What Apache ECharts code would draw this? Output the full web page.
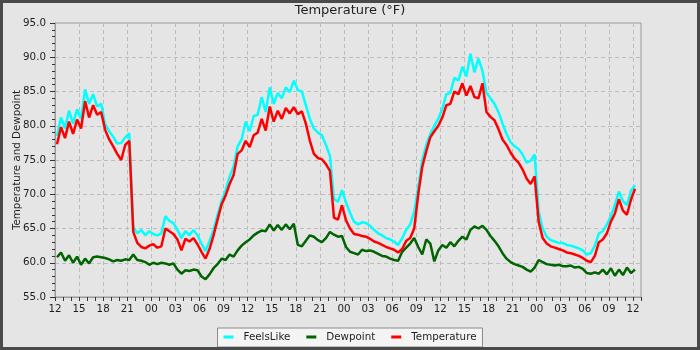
<!DOCTYPE html>
<html>
<head>
<meta charset="utf-8">
<script src="https://cdn.jsdelivr.net/npm/echarts@6/dist/echarts.min.js"></script>
<style>
  html, body { margin: 0; padding: 0; background: #e5e5e5; }
  #wrap { position: relative; width: 700px; height: 350px; background: #e5e5e5; }
  #chart { width: 700px; height: 350px; }
  #frame { position: absolute; left: 0; top: 0; width: 700px; height: 350px;
           box-sizing: border-box; border: 3px solid #4a4a4a; pointer-events: none; }
</style>
</head>
<body>
<div id="wrap"><div id="chart"></div><div id="frame"></div></div>
<script>
// Hours are counted from 12:00 on the first day; samples every half hour.
const FIRST_HOUR = 0.25;
const STEP_HOURS = 0.5;

// Hour-of-day labels for every 3-hour tick (0 .. 72 h)
const xTickLabels = ['12','15','18','21','00','03','06','09',
                     '12','15','18','21','00','03','06','09',
                     '12','15','18','21','00','03','06','09','12'];

const feelsLike = [
  78.5, 81.2, 79.6, 82.2, 80.3, 82.4, 81.0, 85.3, 83.2, 84.6,
  82.8, 83.2, 80.2, 79.2, 78.4, 77.4, 77.5, 78.3, 78.9, 65.2,
  64.3, 64.8, 64.0, 64.6, 64.2, 64.0, 64.3, 66.8, 66.1, 65.8,
  64.8, 63.6, 64.6, 64.0, 64.8, 64.0, 62.8, 61.7, 63.2, 64.8,
  67.0, 69.0, 70.6, 72.6, 74.0, 77.0, 78.0, 80.6, 79.2, 81.4,
  81.6, 84.2, 82.0, 85.6, 83.2, 84.8, 84.0, 85.6, 84.9, 86.6,
  85.2, 85.0, 83.0, 81.0, 79.6, 79.0, 78.6, 77.2, 75.6, 69.3,
  68.9, 70.6, 68.8, 67.3, 66.0, 65.6, 65.9, 65.8, 65.4, 64.8,
  64.3, 64.0, 63.6, 63.4, 63.1, 62.6, 63.6, 64.8, 65.6, 67.5,
  71.0, 75.0, 77.2, 78.8, 80.0, 81.0, 82.5, 84.6, 84.8, 87.0,
  86.6, 88.6, 87.2, 90.5, 87.8, 89.8, 88.0, 84.8, 84.0, 83.2,
  82.0, 80.3, 78.8, 77.6, 77.0, 76.6, 75.8, 74.6, 74.9, 75.8,
  67.5, 65.0, 63.8, 63.3, 63.1, 62.9, 62.9, 62.6, 62.5, 62.3,
  62.1, 61.8, 61.2, 61.4, 62.5, 64.3, 64.6, 65.6, 66.8, 68.5,
  70.4, 69.0, 68.4, 70.5, 71.3
];

const dewpoint = [
  60.8, 61.5, 60.3, 61.1, 60.0, 60.9, 59.7, 60.6, 59.9, 60.8,
  60.9, 60.8, 60.7, 60.5, 60.2, 60.4, 60.3, 60.5, 60.4, 61.2,
  60.4, 60.3, 60.1, 59.7, 60.0, 59.8, 60.0, 59.9, 59.7, 59.9,
  59.0, 58.4, 58.9, 58.8, 59.0, 58.9, 58.0, 57.6, 58.3, 59.2,
  59.8, 60.6, 60.4, 61.2, 60.9, 61.8, 62.5, 63.0, 63.4, 64.0,
  64.4, 64.7, 64.6, 65.6, 64.7, 65.5, 64.8, 65.6, 64.9, 65.7,
  62.6, 62.4, 63.2, 64.0, 63.8, 63.3, 63.0, 63.6, 64.5, 64.1,
  63.8, 63.9, 62.3, 61.6, 61.4, 61.2, 61.9, 61.7, 61.8, 61.6,
  61.3, 61.0, 60.9, 60.6, 60.4, 60.3, 61.6, 62.2, 62.8, 63.6,
  62.3, 61.2, 63.4, 62.8, 60.2, 61.8, 62.6, 62.2, 63.0, 62.4,
  63.2, 63.8, 63.4, 64.8, 65.3, 65.0, 65.4, 64.8, 63.9, 63.2,
  62.4, 61.4, 60.6, 60.1, 59.8, 59.6, 59.4, 59.0, 58.7, 59.3,
  60.4, 60.1, 59.8, 59.7, 59.6, 59.7, 59.5, 59.5, 59.6, 59.3,
  59.4, 59.1, 58.5, 58.4, 58.6, 58.4, 59.0, 58.3, 59.2, 58.1,
  59.0, 58.2, 59.3, 58.5, 59.0
];

const temperature = [
  77.3, 79.8, 78.2, 80.6, 78.8, 80.9, 79.6, 83.6, 81.2, 83.0,
  81.6, 82.0, 79.4, 78.0, 77.0, 75.9, 75.0, 77.2, 77.8, 64.5,
  62.9, 62.3, 62.1, 62.5, 62.7, 62.2, 62.4, 65.0, 64.6, 64.2,
  63.4, 61.8, 63.5, 63.1, 63.6, 62.7, 61.6, 60.6, 62.0, 64.0,
  66.3, 68.5, 69.8, 71.5, 72.8, 75.9, 76.4, 77.8, 76.9, 78.6,
  79.0, 81.0, 79.3, 82.8, 80.6, 82.2, 81.0, 82.6, 81.8, 82.7,
  81.7, 82.1, 80.3, 77.8, 75.9, 75.3, 75.1, 74.4, 73.4, 66.6,
  66.3, 68.4, 66.2, 65.0, 64.2, 64.1, 63.9, 63.8, 63.5, 63.1,
  62.9, 62.6, 62.3, 62.1, 61.9, 61.5, 62.0, 63.2, 63.6, 65.0,
  70.0, 74.0, 76.3, 78.3, 79.2, 80.0, 81.2, 83.0, 83.2, 85.0,
  84.6, 86.2, 84.4, 85.8, 84.2, 84.0, 86.2, 82.0, 81.3, 80.8,
  79.5, 78.0, 77.2, 76.1, 75.2, 74.6, 73.6, 72.3, 71.5, 72.6,
  66.0, 63.6, 62.8, 62.4, 62.2, 62.0, 61.8, 61.5, 61.4, 61.2,
  61.0, 60.7, 60.3, 60.1, 61.0, 63.0, 63.4, 64.3, 66.0, 67.2,
  69.3, 67.6, 67.0, 69.2, 70.8
];

function toPoints(values) {
  return values.map((v, i) => [FIRST_HOUR + i * STEP_HOURS, v]);
}

const FONT = 'DejaVu Sans';
const TEXT = '#1e1e1e';
const FRAME = '#9a9a9a';
const GRIDLINE = { color: '#bdbdbd', width: 1, type: [4, 3] };

const chart = echarts.init(document.getElementById('chart'), null, { renderer: 'canvas' });

chart.setOption({
  backgroundColor: 'transparent',
  animation: false,
  textStyle: { fontFamily: FONT },
  title: {
    text: 'Temperature (°F)',
    left: 'center',
    top: 4,
    padding: 0,
    textStyle: { fontFamily: FONT, fontSize: 13, fontWeight: 'normal', color: TEXT }
  },
  legend: {
    left: 'center',
    bottom: 3,
    orient: 'horizontal',
    icon: 'rect',
    itemWidth: 10,
    itemHeight: 3,
    itemGap: 16,
    padding: [4, 6, 5, 6],
    backgroundColor: '#f4f4f4',
    borderColor: '#8a8a8a',
    borderWidth: 1,
    borderRadius: 0,
    textStyle: { fontFamily: FONT, fontSize: 10.3, color: TEXT, padding: [0, 0, 0, 5] },
    data: ['FeelsLike', 'Dewpoint', 'Temperature']
  },
  grid: {
    left: 55, right: 59, top: 23, bottom: 53,
    outerBoundsMode: 'none',
    containLabel: false,
    show: true,
    backgroundColor: 'transparent',
    borderColor: FRAME,
    borderWidth: 1
  },
  xAxis: [
    {
      type: 'value',
      position: 'bottom',
      min: 0, max: 73, interval: 3,
      axisLine: { show: true, lineStyle: { color: FRAME, width: 1 } },
      axisTick: { show: false },
      axisLabel: {
        fontFamily: FONT, fontSize: 10.3, color: TEXT, margin: 7,
        formatter: function (v) {
          if (v % 3 !== 0) return '';
          const lab = xTickLabels[v / 3];
          return lab === undefined ? '' : lab;
        }
      },
      splitLine: { show: true, showMinLine: false, showMaxLine: false, lineStyle: GRIDLINE }
    },
    {
      // hourly tick marks along the bottom edge
      type: 'value',
      position: 'bottom',
      min: 0, max: 73, interval: 1,
      axisLine: { show: false },
      axisTick: { show: true, length: 4, lineStyle: { color: '#333', width: 1 } },
      axisLabel: { show: false },
      splitLine: { show: false }
    }
  ],
  yAxis: {
    type: 'value',
    min: 55, max: 95, interval: 5,
    name: 'Temperature and Dewpoint',
    nameLocation: 'middle',
    nameRotate: 90,
    nameGap: 33,
    nameMoveOverlap: false,
    nameTextStyle: { fontFamily: FONT, fontSize: 10.3, color: TEXT },
    axisLine: { show: true, lineStyle: { color: FRAME, width: 1 } },
    axisTick: { show: true, length: 5, lineStyle: { color: '#333', width: 1 } },
    minorTick: { show: true, splitNumber: 5, length: 3, lineStyle: { color: '#333', width: 1 } },
    axisLabel: {
      fontFamily: FONT, fontSize: 10.3, color: TEXT, margin: 9,
      formatter: v => v.toFixed(1)
    },
    splitLine: { show: true, showMinLine: false, showMaxLine: false, lineStyle: GRIDLINE }
  },
  series: [
    {
      name: 'FeelsLike', type: 'line', xAxisIndex: 0,
      data: toPoints(feelsLike), showSymbol: false, symbol: 'none',
      lineStyle: { color: '#00ffff', width: 2.5 }, itemStyle: { color: '#00ffff' },
      z: 2
    },
    {
      name: 'Dewpoint', type: 'line', xAxisIndex: 0,
      data: toPoints(dewpoint), showSymbol: false, symbol: 'none',
      lineStyle: { color: '#006400', width: 2.5 }, itemStyle: { color: '#006400' },
      z: 3
    },
    {
      name: 'Temperature', type: 'line', xAxisIndex: 0,
      data: toPoints(temperature), showSymbol: false, symbol: 'none',
      lineStyle: { color: '#ff0000', width: 2.5 }, itemStyle: { color: '#ff0000' },
      z: 4
    }
  ]
});
</script>
</body>
</html>
